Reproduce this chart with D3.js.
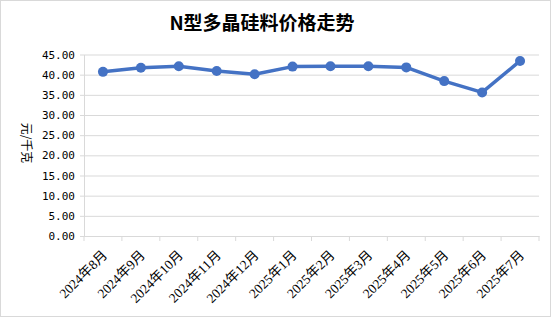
<!DOCTYPE html>
<html lang="zh">
<head>
<meta charset="UTF-8">
<title>N型多晶硅料价格走势</title>
<script src="https://d3js.org/d3.v7.min.js"></script>
<style>
  body { margin: 0; background: #fff; }
</style>
</head>
<body>
<div id="chart"></div>
<script>
(function () {
  'use strict';

  // data
  var months = ['2024年8月', '2024年9月', '2024年10月', '2024年11月', '2024年12月',
    '2025年1月', '2025年2月', '2025年3月', '2025年4月', '2025年5月', '2025年6月', '2025年7月'];
  var prices = [40.7, 41.7, 42.1, 40.9, 40.1, 42.0, 42.1, 42.1, 41.8, 38.4, 35.6, 43.4];
  var yTicks = [0, 5, 10, 15, 20, 25, 30, 35, 40, 45];

  var width = 555, height = 318;
  var margin = { top: 54.5, right: 16, bottom: 82, left: 84 };

  var svg = d3.select('#chart').append('svg')
    .attr('width', width)
    .attr('height', height);

  // outer frame
  svg.append('rect')
    .attr('x', 0.5).attr('y', 0.5)
    .attr('width', 550).attr('height', 316)
    .attr('fill', '#fff')
    .attr('stroke', '#d9d9d9');

  svg.append('text')
    .attr('x', 262).attr('y', 30)
    .attr('text-anchor', 'middle')
    .attr('font-family', '"Noto Sans CJK SC", sans-serif')
    .attr('font-weight', 'bold')
    .attr('font-size', 19)
    .attr('fill', '#000')
    .text('N型多晶硅料价格走势');

  var x = d3.scaleBand()
    .domain(months)
    .range([margin.left, width - margin.right]);

  var y = d3.scaleLinear()
    .domain([0, 45])
    .range([height - margin.bottom, margin.top]);

  // y axis with gridlines
  var yAxis = svg.append('g')
    .attr('transform', 'translate(' + margin.left + ',0)')
    .call(d3.axisLeft(y)
      .tickValues(yTicks)
      .tickSize(-(width - margin.right - margin.left))
      .tickSizeOuter(0)
      .tickPadding(9)
      .tickFormat(d3.format('.2f')));
  yAxis.select('.domain').attr('stroke', '#d9d9d9');
  yAxis.selectAll('.tick line').attr('stroke', '#d9d9d9').attr('x1', -4);
  yAxis.selectAll('.tick text')
    .attr('font-family', '"DejaVu Sans Mono", monospace')
    .attr('font-size', 11)
    .attr('fill', '#000');

  // x axis
  var xAxis = svg.append('g')
    .attr('transform', 'translate(0,' + (height - margin.bottom) + ')')
    .call(d3.axisBottom(x).tickSize(0).tickSizeOuter(0).tickFormat(''));
  xAxis.select('.domain').attr('stroke', '#d9d9d9');
  xAxis.selectAll('.tick').remove();

  var bounds = months.map(function (m) { return x(m); });
  bounds.push(x.range()[1]);
  xAxis.selectAll('line.sep')
    .data(bounds)
    .enter().append('line')
    .attr('class', 'sep')
    .attr('x1', function (d) { return d; })
    .attr('x2', function (d) { return d; })
    .attr('y1', 0).attr('y2', 5)
    .attr('stroke', '#d9d9d9');

  xAxis.selectAll('text.lab')
    .data(months)
    .enter().append('text')
    .attr('class', 'lab')
    .attr('text-anchor', 'end')
    .attr('font-family', '"Liberation Serif", "Noto Sans CJK SC", serif')
    .attr('font-size', 13.5)
    .attr('fill', '#000')
    .attr('transform', function (d) {
      return 'translate(' + (x(d) + x.bandwidth() / 2 + 5) + ',20) rotate(-45)';
    })
    .text(function (d) { return d; });

  // axis title
  svg.append('text')
    .attr('transform', 'translate(22,143) rotate(90)')
    .attr('text-anchor', 'middle')
    .attr('font-family', '"Noto Sans CJK SC", sans-serif')
    .attr('font-size', 12)
    .attr('fill', '#000')
    .text('元/千克');

  var line = d3.line()
    .x(function (d, i) { return x(months[i]) + x.bandwidth() / 2; })
    .y(function (d) { return y(d); });

  svg.append('path')
    .datum(prices)
    .attr('d', line)
    .attr('fill', 'none')
    .attr('stroke', '#4472c4')
    .attr('stroke-width', 3.5)
    .attr('stroke-linejoin', 'round');

  svg.selectAll('circle.pt')
    .data(prices)
    .enter().append('circle')
    .attr('class', 'pt')
    .attr('cx', function (d, i) { return x(months[i]) + x.bandwidth() / 2; })
    .attr('cy', function (d) { return y(d); })
    .attr('r', 5)
    .attr('fill', '#4472c4');
})();
</script>
</body>
</html>
